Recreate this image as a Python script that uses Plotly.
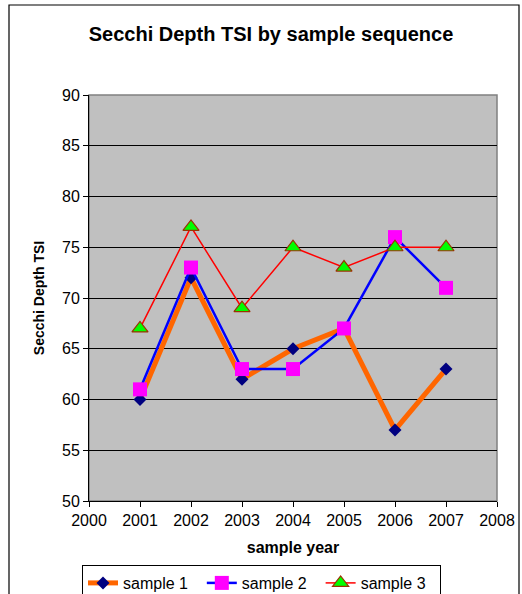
import plotly.graph_objects as go

years = [2001, 2002, 2003, 2004, 2005, 2006, 2007]
sample1 = [60, 72, 62, 65, 67, 57, 63]
sample2 = [61, 73, 63, 63, 67, 76, 71]
sample3 = [67, 77, 69, 75, 73, 75, 75]
names = ["sample 1", "sample 2", "sample 3"]

FONT = "Liberation Sans, Arial, sans-serif"
PAD = "\u00a0\u00a0"

fig = go.Figure()
fig.add_trace(go.Scatter(
    x=years, y=sample1, name=names[0] + PAD, mode="lines+markers",
    line=dict(color="#FF6600", width=5),
    marker=dict(symbol="diamond", color="#000080", size=10, line=dict(width=0)),
))
fig.add_trace(go.Scatter(
    x=years, y=sample2, name=names[1] + PAD, mode="lines+markers",
    line=dict(color="#0000FF", width=2.5),
    marker=dict(symbol="square", color="#FF00FF", size=14, line=dict(width=0)),
))
fig.add_trace(go.Scatter(
    x=years, y=sample3, name=names[2] + PAD, mode="lines+markers",
    line=dict(color="#FF0000", width=1.5),
    marker=dict(symbol="triangle-up", color="#00FF00", size=14,
                line=dict(color="#993300", width=1.2)),
))

L, R, T, B = 89, 25, 95, 93
W, H = 522, 594
pw, ph = W - L - R, H - T - B

def px(x):
    return (x - L) / pw

def py(y):
    return (H - B - y) / ph

fig.update_layout(
    width=W, height=H,
    margin=dict(l=L, r=R, t=T, b=B, autoexpand=False),
    paper_bgcolor="white",
    plot_bgcolor="#C0C0C0",
    font=dict(family=FONT, size=16, color="black"),
    title=dict(text="<b>Secchi Depth TSI by sample sequence</b>",
               x=271 / W, xanchor="center", xref="container",
               y=1 - 34 / H, yanchor="middle",
               font=dict(size=20, family=FONT)),
    xaxis=dict(range=[2000, 2008], dtick=1, tick0=2000,
               showgrid=False, zeroline=False,
               showline=True, linecolor="black", linewidth=1,
               ticks="outside", ticklen=5, tickcolor="black",
               tickfont=dict(size=16),
               title=dict(text="<b>sample year</b>", font=dict(size=16), standoff=13)),
    yaxis=dict(range=[50, 90], dtick=5, tick0=50,
               showgrid=True, gridcolor="black", gridwidth=1,
               zeroline=False,
               showline=True, linecolor="black", linewidth=1,
               ticks="outside", ticklen=5, tickcolor="black",
               tickfont=dict(size=16),
               title=dict(text="<b>Secchi Depth TSI</b>", font=dict(size=14), standoff=14)),
    legend=dict(orientation="h", x=px(82), y=py(565), xanchor="left", yanchor="top",
                bordercolor="black", borderwidth=1, bgcolor="white",
                font=dict(size=16), tracegroupgap=0),
    showlegend=True,
    shapes=[
        dict(type="rect", xref="paper", yref="paper", x0=0, x1=1, y0=0, y1=1,
             line=dict(color="#808080", width=1.5), layer="below"),
        dict(type="rect", xref="paper", yref="paper",
             x0=px(9), x1=px(519), y0=py(610), y1=py(5),
             line=dict(color="black", width=1.2)),
    ],
)

fig.write_html("out.html")
